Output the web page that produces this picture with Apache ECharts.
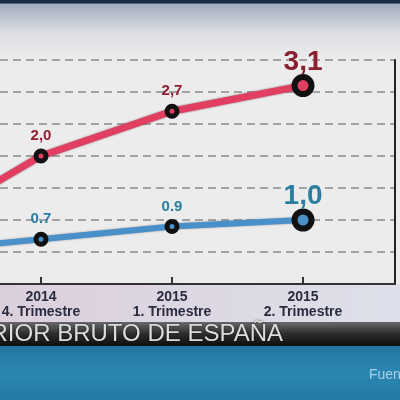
<!DOCTYPE html>
<html>
<head>
<meta charset="utf-8">
<script src="https://cdn.jsdelivr.net/npm/echarts@6/dist/echarts.min.js"></script>
<style>
  html, body { margin: 0; padding: 0; background: #ececec; }
  #chart { width: 400px; height: 400px; }
</style>
</head>
<body>
<div id="chart"></div>
<script>
// quarters (the first one is off the left edge of the frame)
const years = ['2014', '2014', '2015', '2015'];
const quarters = ['3. Trimestre', '4. Trimestre', '1. Trimestre', '2. Trimestre'];
// interanual (red) and trimestral (blue) growth, %
const redValues = [0.8, 2.0, 2.7, 3.1];
const blueValues = [0.5, 0.7, 0.9, 1.0];
const redLabels = ['', '2,0', '2,7', '3,1'];
const blueLabels = ['', '0.7', '0.9', '1,0'];
const titleText = 'PRODUCTO INTERIOR BRUTO DE ESPAÑA';
const sourceText = 'Fuente';

const font = '"Liberation Sans", Arial, sans-serif';

function buildPoints(values, labels, color, labelColor) {
    const last = values.length - 1;
    return values.map((v, i) => ({
        value: [i, v],
        symbolSize: i === last ? 17 : 10,
        itemStyle: {
            color: color,
            borderColor: '#111',
            borderWidth: i === last ? 6 : 5
        },
        label: {
            show: labels[i] !== '',
            formatter: labels[i],
            position: 'top',
            distance: i === last ? -2 : 5,
            color: labelColor,
            fontFamily: font,
            fontWeight: 'bold',
            fontSize: i === last ? 28 : 15
        }
    }));
}

const chart = echarts.init(document.getElementById('chart'));

const quarterTicks = [1, 2, 3];

const option = {
    animation: false,
    backgroundColor: '#ececec',
    grid: { left: 0, right: 5, top: 60, bottom: 116, containLabel: false, outerBoundsMode: 'none' },
    xAxis: {
        type: 'value',
        min: 0.687,
        max: 3.702,
        splitLine: { show: false },
        axisLine: { show: true, lineStyle: { color: '#333', width: 2 } },
        axisTick: { show: true, inside: true, length: 7, customValues: quarterTicks, lineStyle: { color: '#333', width: 2 } },
        axisLabel: {
            customValues: quarterTicks,
            margin: 6,
            color: '#2b2b40',
            fontFamily: font,
            fontWeight: 'bold',
            fontSize: 14,
            lineHeight: 15,
            formatter: v => years[Math.round(v)] + '\n' + quarters[Math.round(v)]
        }
    },
    yAxis: [{
        type: 'value',
        min: 0,
        max: 3.5,
        interval: 0.5,
        axisLine: { show: false },
        axisTick: { show: false },
        axisLabel: { show: false },
        splitLine: { lineStyle: { color: '#8a8a8a', width: 1.5, type: [8, 5] } }
    }, {
        type: 'value',
        position: 'right',
        min: 0,
        max: 3.5,
        interval: 0.5,
        axisLine: { show: true, lineStyle: { color: '#222', width: 2 } },
        axisTick: { show: false },
        axisLabel: { show: false },
        splitLine: { show: false }
    }],
    graphic: [
        // backgrounds
        {
            type: 'rect', z: -100, silent: true,
            shape: { x: 0, y: 0, width: 400, height: 60 },
            style: {
                fill: new echarts.graphic.LinearGradient(0, 0, 0, 1, [
                    { offset: 0, color: '#1c2b45' },
                    { offset: 0.05, color: '#1c2b45' },
                    { offset: 0.07, color: '#a2adbc' },
                    { offset: 0.55, color: '#dcdee2' },
                    { offset: 1, color: '#ececec' }
                ])
            }
        },
        {
            type: 'rect', z: -100, silent: true,
            shape: { x: 0, y: 284, width: 400, height: 38 },
            style: {
                fill: new echarts.graphic.LinearGradient(0, 0, 1, 0, [
                    { offset: 0, color: '#dccfdc' },
                    { offset: 1, color: '#dde0ea' }
                ])
            }
        },
        {
            type: 'rect', z: -100, silent: true,
            shape: { x: 0, y: 322, width: 400, height: 24 },
            style: {
                fill: new echarts.graphic.LinearGradient(0, 0, 0, 1, [
                    { offset: 0, color: '#6a6a6c' },
                    { offset: 0.5, color: '#2c2c2e' },
                    { offset: 1, color: '#0e0e10' }
                ])
            }
        },
        {
            type: 'rect', z: -100, silent: true,
            shape: { x: 0, y: 346, width: 400, height: 54 },
            style: {
                fill: new echarts.graphic.LinearGradient(0, 0, 0, 1, [
                    { offset: 0, color: '#2476a2' },
                    { offset: 0.5, color: '#2c86b2' },
                    { offset: 1, color: '#2479a6' }
                ])
            }
        },
        // texts
        {
            type: 'text', z: 100, silent: true,
            x: 283, y: 334,
            style: {
                text: titleText,
                align: 'right',
                verticalAlign: 'middle',
                fill: '#dcdcdc',
                font: '24px "Liberation Sans", "DejaVu Sans", sans-serif',
                textShadowColor: 'rgba(0,0,0,0.6)',
                textShadowBlur: 2
            }
        },
        {
            type: 'text', z: 100, silent: true,
            x: 369, y: 375,
            style: {
                text: sourceText,
                align: 'left',
                verticalAlign: 'middle',
                fill: '#a9d0e8',
                font: '14px ' + font
            }
        }
    ],
    series: [{
        type: 'line',
        z: 3,
        symbol: 'circle',
        data: buildPoints(redValues, redLabels, '#e23e62', '#8a1f30'),
        lineStyle: { color: '#e23e62', width: 7, shadowColor: 'rgba(60,0,10,0.6)', shadowBlur: 2 }
    }, {
        type: 'line',
        z: 3,
        symbol: 'circle',
        data: buildPoints(blueValues, blueLabels, '#4a90c8', '#2a7fa0'),
        lineStyle: { color: '#4a90c8', width: 6, shadowColor: 'rgba(0,20,60,0.4)', shadowBlur: 2 }
    }]
};

chart.setOption(option);
</script>
</body>
</html>
